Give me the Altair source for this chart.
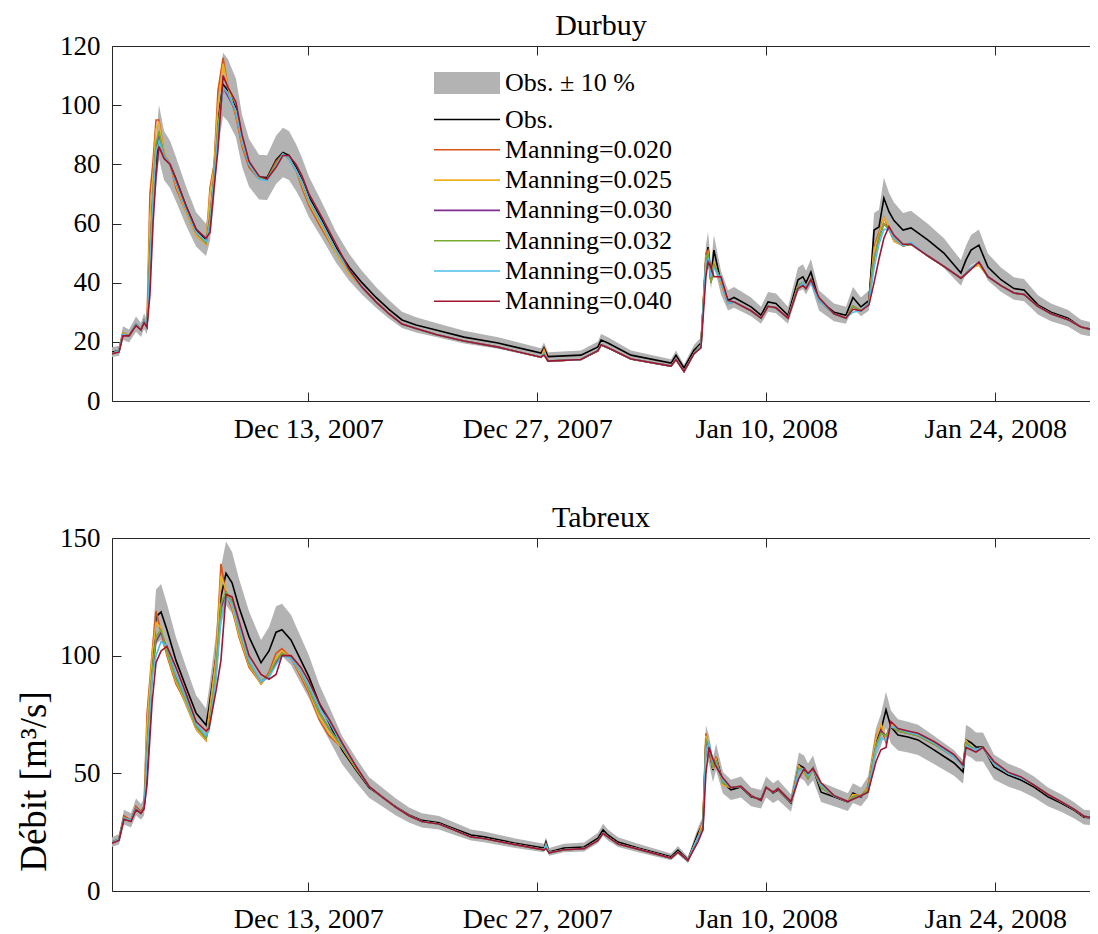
import altair as alt
import pandas as pd

# ---------------- data (days since 2007-12-01 00:00) ----------------
DAYS_D = [0.00, 0.43, 0.67, 1.04, 1.47, 1.77, 1.96, 2.14, 2.32, 2.51,
          2.69, 2.87, 3.18, 3.55, 3.91, 4.52, 5.14, 5.75, 5.99, 6.24,
          6.48, 6.79, 7.09, 7.58, 7.95, 8.38, 8.99, 9.48, 10.03, 10.45,
          10.82, 11.25, 11.62, 12.04, 12.84, 13.69, 14.49, 15.28, 16.14, 16.93,
          17.73, 18.59, 19.81, 21.52, 23.60, 26.23, 26.41, 26.66, 28.67, 29.71,
          29.90, 30.32, 31.73, 34.18, 34.48, 34.97, 35.58, 36.01, 36.31, 36.44,
          36.62, 36.80, 37.23, 37.66, 38.03, 39.07, 39.68, 40.11, 40.59, 41.33,
          41.94, 42.24, 42.43, 42.73, 43.22, 44.14, 44.87, 45.30, 45.79, 46.28,
          46.59, 46.89, 47.19, 47.50, 47.81, 48.36, 48.85, 49.89, 50.86, 51.90,
          52.21, 52.52, 53.00, 53.55, 54.35, 55.14, 55.76, 56.61, 57.41, 58.45,
          59.24, 60.04, 60.34, 61.00]

OBS_D = [16.5, 17, 23, 22, 26, 24, 27, 25, 45, 72,
         80, 91, 83, 80, 75, 66, 58, 54.5, 60, 75,
         95, 107, 105, 99, 88, 80.5, 75.7, 75.5, 81.5, 84,
         83, 79, 74.7, 69, 61, 52, 45.3, 40, 35, 31,
         27.4, 25.7, 24, 21.6, 19.6, 16.2, 18, 15, 15.5, 18.3,
         20.6, 19.6, 15.5, 12.8, 15.5, 11.2, 17.2, 19.6, 47.7, 52,
         42, 51, 40, 34, 35, 31.8, 29, 33.5, 33, 29,
         41, 42, 40, 43.6, 34, 30, 29, 35, 31.8, 34,
         57.8, 58.8, 68.6, 64, 61, 57.8, 58.5, 54.4, 50, 43.3,
         47.7, 51, 52.7, 45.3, 41, 38, 37.5, 32.5, 30, 28,
         25, 24, 23.3, 23]

M020_D = [16, 17, 23, 22, 26, 24, 27, 26, 70, 81,
          95, 95, 84, 80, 72, 64, 56, 53, 72, 80,
          105, 116, 106, 96, 86, 79, 75, 75, 81, 83.5,
          82, 78, 72, 66, 58, 50, 43, 38.5, 33.5, 29.5,
          26, 24.5, 22.5, 20.3, 18.2, 14.8, 17.5, 13.5, 14, 17,
          19, 18, 14.2, 11.8, 14, 10, 16, 19, 50, 51,
          40, 47, 40, 33, 33.5, 30.5, 28, 32, 31.5, 28,
          39, 40, 38, 41, 34, 29.5, 28, 32, 30.5, 33,
          52, 57, 62, 58, 54, 52.5, 53, 49, 45.5, 41.5,
          43, 45, 46, 42, 39, 36.5, 36, 32, 29.5, 27.5,
          25, 24, 23.3, 23]

M025_D = [16, 17, 23, 22, 26, 24, 27, 25, 62, 76,
          92, 94, 84, 80, 73, 64, 56, 53, 70, 79,
          100, 114, 106, 97, 87, 80, 75, 75, 80, 83.5,
          82, 78, 73, 67, 59, 50, 43, 38.5, 33.5, 29.5,
          26, 24.5, 22.5, 20.3, 18.2, 14.8, 17, 13.5, 14, 17,
          19, 18, 14.2, 11.8, 14, 10, 16, 19, 49, 50,
          40, 47, 40, 33, 33.5, 30.5, 28, 32, 31.5, 28,
          39, 40, 38, 41, 34, 29.5, 28, 32, 30.5, 33,
          51, 56, 62, 59, 54, 52.5, 53, 49, 45.5, 41.5,
          43, 45, 46, 42, 39, 36.5, 36, 32, 29.5, 27.5,
          25, 24, 23.3, 23]

M030_D = [16, 17, 22.5, 22, 26, 24, 27, 25, 50, 70,
          86, 90, 83, 80, 74, 65, 57, 53.5, 62, 76,
          92, 106, 103, 98, 88, 80, 75.5, 75, 80, 83.5,
          82, 78, 74, 68, 60, 51, 44, 38.5, 33.5, 29.5,
          26, 24.5, 22.5, 20.3, 18.2, 14.8, 16, 13.5, 14, 17,
          19, 18, 14.2, 11.8, 14, 10, 16, 19, 48, 50,
          40, 46, 41, 33, 33.5, 30.5, 28, 32, 31.5, 28,
          39, 40, 38, 41, 34, 29.5, 28, 32, 30.5, 33,
          48, 55, 60, 58, 55, 52.5, 53, 49, 45.5, 41.5,
          43, 45, 47, 42, 39, 36.5, 36, 32, 29.5, 27.5,
          25, 24, 23.3, 23]

M032_D = [16, 17, 22.5, 22, 26, 24, 27, 25, 50, 71,
          87, 91, 83, 80, 74, 65, 57, 53.5, 62, 76,
          93, 106, 104, 98, 88, 80, 75.5, 75, 80, 83.5,
          82, 78, 74, 68, 60, 51, 44, 38.5, 33.5, 29.5,
          26, 24.5, 22.5, 20.3, 18.2, 14.8, 16, 13.5, 14, 17,
          19, 18, 14.2, 11.8, 14, 10, 16, 19, 48, 50,
          40, 46, 41, 33, 33.5, 30.5, 28, 32, 31.5, 28,
          39, 40, 38, 41, 34, 29.5, 28, 32, 30.5, 33,
          48, 55, 60, 58, 55, 52.5, 53, 49, 45.5, 41.5,
          43, 45, 47, 42, 39, 36.5, 36, 32, 29.5, 27.5,
          25, 24, 23.3, 23]

M035_D = [16, 17, 22.5, 22, 26, 24, 27, 25, 46, 68,
          84, 88, 83, 80, 74, 65, 57, 54, 60, 75,
          90, 106, 104, 98, 88, 80, 75, 74.5, 79.5, 83.5,
          82, 78, 74, 68, 60, 51, 44, 38.5, 33.5, 29.5,
          26, 24.5, 22.5, 20.3, 18.2, 14.8, 16, 13.5, 14, 17,
          19, 18, 14.2, 11.8, 14, 10, 16, 18.5, 47, 48,
          42, 45, 41, 33, 33.5, 30.5, 28, 32, 31.5, 28,
          38, 40, 38, 40, 34, 29.5, 28, 30, 30.5, 33,
          45, 53, 58, 58, 55, 52.5, 53.5, 49, 45.5, 41.5,
          43, 45, 47, 42, 39, 36.5, 36, 32, 29.5, 27.5,
          25, 24, 23.3, 23]

M040_D = [16, 16.5, 22, 22, 25.5, 24, 26.5, 25, 36, 60,
          76, 86, 82, 80, 75, 66, 58, 55, 57, 72,
          85, 110, 106, 101, 90, 81, 76, 75, 79, 83,
          83, 80, 76, 70, 62, 53, 44.5, 38.5, 33.5, 29.5,
          26, 24.5, 22.5, 20.3, 18.2, 14.8, 15.5, 13.5, 14, 17,
          19, 18, 14.2, 11.8, 14, 10, 16, 18, 42, 47,
          45, 42, 42, 34, 33.5, 30.5, 28, 32, 31.5, 28,
          38, 39, 38, 41, 35, 29.5, 28, 31, 30.5, 32.5,
          40, 48, 55, 59, 56, 53, 53, 49, 45.5, 41.5,
          43, 44.5, 47, 42, 39, 36.5, 36, 32, 29.5, 27.5,
          25, 24, 23.3, 23]

DAYS_T = [0.00, 0.43, 0.73, 1.16, 1.47, 1.77, 1.96, 2.14, 2.45, 2.69,
          3.00, 3.36, 3.91, 4.52, 5.14, 5.75, 5.93, 6.36, 6.66, 6.97,
          7.34, 7.76, 8.38, 9.11, 9.60, 10.03, 10.39, 10.94, 11.55, 12.04,
          12.66, 13.27, 14.06, 14.92, 15.71, 16.51, 17.36, 18.16, 18.95, 19.99,
          20.73, 21.95, 22.74, 24.58, 26.41, 26.53, 26.72, 27.63, 28.86, 29.71,
          30.02, 30.32, 30.94, 32.16, 34.18, 34.60, 35.21, 35.83, 36.13, 36.31,
          36.50, 36.74, 36.93, 37.35, 37.84, 38.45, 39.07, 39.68, 39.99, 40.42,
          40.72, 41.51, 42.00, 42.31, 42.55, 42.86, 43.35, 44.14, 44.99, 45.30,
          45.79, 46.22, 46.71, 47.01, 47.32, 47.62, 48.05, 48.66, 49.28, 50.25,
          51.48, 52.03, 52.21, 52.52, 52.82, 53.25, 53.92, 54.78, 55.57, 56.37,
          57.22, 58.02, 58.81, 59.42, 60.04, 60.34, 61.00]

OBS_T = [20.8, 22, 31.4, 30, 35.7, 33.6, 35.7, 50, 94, 116.5,
         118.6, 111, 98, 86.7, 75.6, 70.5, 78, 99.5, 125, 135,
         131, 120.7, 108, 97, 102, 110, 111, 106.7, 98, 91,
         80, 71.4, 60, 51.4, 44, 40, 35.7, 32.3, 30, 29,
         27, 23.8, 23, 20.4, 18.3, 20.8, 16.6, 18.3, 18.7, 22.5,
         26, 23.8, 20.8, 18.3, 14.5, 17.4, 13.2, 24.6, 28.9, 64,
         60, 51.4, 57, 46, 43, 44.2, 40, 39, 44.2, 41.6,
         43, 37.4, 53.5, 52.3, 49.3, 52.3, 42, 40, 37.8, 41.6,
         40, 44.2, 63, 68.4, 77, 69.7, 66.3, 65.4, 64.2, 60,
         54.4, 50.6, 64.2, 63, 61.2, 61.2, 52.7, 49.3, 47.2, 44.2,
         40, 37.4, 34.4, 31.4, 31, 30.5, 30]

M020_T = [20.8, 22, 32, 30, 36, 33.6, 36, 75, 101, 119,
          110, 100, 88, 80, 69, 64, 75, 100, 139, 126,
          120, 108, 95, 88, 93, 101, 103, 99, 91, 84,
          73, 66, 61, 52, 44.5, 40, 35.5, 32, 29.5, 28.5,
          26.5, 23, 22.3, 19.8, 17.5, 20, 16.2, 17.5, 18, 21.5,
          24.5, 23, 20, 17.8, 14, 16.5, 13, 23, 30, 67,
          60, 52, 57, 45, 44, 44.5, 40.5, 38.5, 44, 42,
          43.5, 38, 53, 50, 48, 52, 44, 40.5, 38, 41,
          40.5, 44, 66, 70, 63, 70, 68, 67, 66, 62.5,
          57, 53, 64, 61, 60, 61, 54, 50, 48, 45,
          41, 38, 34.8, 31.8, 31, 30.5, 30]

M025_T = [20.5, 22, 31, 30, 35, 33, 35, 70, 100, 114,
          112, 101, 89, 80, 69, 64, 74, 98, 134, 128,
          121, 109, 96, 88, 92, 99, 102, 99, 92, 85,
          74, 67, 61, 52, 44.5, 40, 35.5, 32, 29.5, 28.5,
          26.5, 23, 22.3, 19.8, 17.5, 19.5, 16.2, 17.5, 18, 21.5,
          24.5, 23, 20, 17.8, 14, 16.5, 13, 23, 29, 66,
          62, 52, 56, 45, 44, 44.5, 40.5, 38.5, 44, 42,
          43.5, 38, 53, 50, 48, 52, 44, 40.5, 38, 41,
          40.5, 44, 65, 71, 65, 71, 68, 67, 66, 62.5,
          57, 53, 64, 61, 60, 61, 54, 50, 48, 45,
          41, 38, 34.8, 31.8, 31, 30.5, 30]

M030_T = [20.5, 22, 31, 30, 35, 33, 35, 60, 92, 106,
          110, 103, 91, 82, 70, 65, 70, 92, 120, 127,
          123, 112, 97, 89, 91, 97, 101, 99, 93, 86,
          76, 69, 61.5, 52.5, 44.5, 40, 35.5, 32, 29.5, 28.5,
          26.5, 23, 22.3, 19.8, 17.5, 19.5, 16.2, 17.5, 18, 21.5,
          24.5, 23, 20, 17.8, 14, 16.5, 13, 23, 27, 64,
          62, 53, 55, 46, 44, 44.5, 40.5, 38.5, 44, 42,
          43.5, 38, 52, 51, 48, 52, 44, 40.5, 38, 40,
          40.5, 43, 62, 68, 66, 70, 68, 67, 66, 62.5,
          57, 53, 63, 61, 60, 61, 54, 50, 48, 45,
          41, 38, 34.8, 31.8, 31, 30.5, 30]

M032_T = [20.5, 22, 31, 30, 35, 33, 35, 60, 93, 108,
          111, 102, 90, 81, 70, 65, 70, 94, 122, 127,
          123, 111, 97, 89, 92, 98, 101, 99, 93, 86,
          76, 69, 61.5, 52.5, 44.5, 40, 35.5, 32, 29.5, 28.5,
          26.5, 23, 22.3, 19.8, 17.5, 19.5, 16.2, 17.5, 18, 21.5,
          24.5, 23, 20, 17.8, 14, 16.5, 13, 23, 27, 64,
          62, 53, 55, 46, 44, 44.5, 40.5, 38.5, 44, 42,
          43.5, 38, 52, 51, 48, 52, 44, 40.5, 38, 40,
          40.5, 43, 62, 67, 66, 70, 68, 67, 66, 62.5,
          57, 53, 63, 61, 60, 61, 54, 50, 48, 45,
          41, 38, 34.8, 31.8, 31, 30.5, 30]

M035_T = [20.5, 22, 31, 30, 35, 33, 35, 55, 90, 100,
          106, 104, 92, 82, 71, 66, 68, 90, 115, 125,
          122, 112, 98, 89, 91, 96, 100, 99, 93, 87,
          78, 72, 62, 53, 44.5, 40, 35.5, 32, 29.5, 28.5,
          26.5, 23, 22.3, 19.8, 17.5, 19.5, 16.2, 17.5, 18, 21.5,
          24.5, 23, 20, 17.8, 14, 16.5, 13, 23, 26, 60,
          63, 55, 54, 47, 44, 44.5, 40.5, 38.5, 44, 42,
          43.5, 38, 51, 52, 49, 52, 45, 40.5, 38, 39,
          40.5, 42, 60, 65, 64, 70, 69, 67.5, 66.5, 63,
          57, 53, 62, 60.5, 60, 61, 54, 50, 48, 45,
          41, 38, 34.8, 31.8, 31, 30.5, 30]

M040_T = [20.3, 21.5, 30.5, 29.5, 34.5, 33, 35, 45, 80, 97,
          102, 104, 95, 84, 72, 68, 69, 85, 98, 126,
          125, 115, 100, 92, 90, 92, 100, 100, 95, 89,
          80, 73, 63, 53, 44.5, 40, 35.5, 32, 29.5, 28.5,
          26.5, 23, 22.3, 19.8, 17.5, 18, 16.2, 17.5, 18, 21.5,
          24.5, 23, 20, 17.8, 14, 16.5, 13, 21, 26, 50,
          61, 56, 53, 48, 44, 44.5, 40.5, 38.5, 44, 42,
          43.5, 38, 48, 52, 50, 52, 46, 40.5, 38, 39,
          40.5, 42, 55, 60, 61, 72, 69, 68, 67, 63.5,
          58, 53.5, 61, 60, 59, 61, 55, 50.5, 48.5, 45,
          41, 38, 34.8, 31.8, 31, 30.5, 30]

SERIES = ["Obs.", "Manning=0.020", "Manning=0.025", "Manning=0.030",
          "Manning=0.032", "Manning=0.035", "Manning=0.040"]
COLORS = ["#000000", "#D95319", "#EDB120", "#7E2F8E", "#77AC30", "#4DBEEE", "#A2142F"]
BAND_LABEL = "Obs. \u00b1 10 %"
BAND_COLOR = "#b3b3b3"
Y_TICKS_D = [0, 20, 40, 60, 80, 100, 120]
Y_TICKS_T = [0, 50, 100, 150]

FONT = "Liberation Serif"
AXIS_COLOR = "#262626"
START = pd.Timestamp("2007-12-01")
X_TICKS = [alt.DateTime(year=2007, month=12, date=13),
           alt.DateTime(year=2007, month=12, date=27),
           alt.DateTime(year=2008, month=1, date=10),
           alt.DateTime(year=2008, month=1, date=24)]
X_DOMAIN = [alt.DateTime(year=2007, month=12, date=1),
            alt.DateTime(year=2008, month=1, date=29, hours=19, minutes=0)]
TICK = 9
PLOT_W = 978


def to_time(days):
    return (START + pd.to_timedelta(days, unit="D")).round("min")


def panel(days, obs, models, title, ymax, yticks, ytitle, height, show_legend, xlab_pad):
    t = to_time(days)
    band = pd.DataFrame({"t": t, "lo": [0.9 * v for v in obs],
                         "hi": [1.1 * v for v in obs], "k": BAND_LABEL})
    obs_df = pd.DataFrame({"t": t, "q": obs, "s": "Obs."})
    mod_df = pd.concat([pd.DataFrame({"t": t, "q": vals, "s": name})
                        for name, vals in zip(SERIES[1:], models)], ignore_index=True)

    xscale = alt.Scale(domain=X_DOMAIN, nice=False)
    yscale = alt.Scale(domain=[0, ymax], nice=False)
    cscale = alt.Scale(domain=SERIES, range=COLORS)

    if show_legend:
        fill_legend = alt.Legend(orient="none", legendX=342, legendY=24, title=None,
                                 symbolType="M-3,-1H3V1H-3Z", symbolSize=484,
                                 symbolStrokeWidth=0, labelOffset=25, padding=0,
                                 labelFont=FONT, labelFontSize=26, labelColor="#000")
        color_legend = alt.Legend(orient="none", legendX=342, legendY=60.5, title=None,
                                  symbolType="M-3,0H3", symbolSize=484,
                                  symbolStrokeWidth=1.6, labelOffset=25, padding=0,
                                  rowPadding=4.3, labelFont=FONT, labelFontSize=26,
                                  labelColor="#000")
    else:
        fill_legend = None
        color_legend = None

    if ytitle:
        y_axis = alt.Axis(values=yticks, ticks=False, tickSize=0, domain=True, grid=False,
                          labelPadding=12, title=ytitle, titlePadding=6, titleY=243,
                          titleFontSize=37)
    else:
        y_axis = alt.Axis(values=yticks, ticks=False, tickSize=0, domain=True, grid=False,
                          labelPadding=12, title=None)

    area = alt.Chart(band).mark_area(clip=True, opacity=1).encode(
        x=alt.X("t:T", scale=xscale,
                axis=alt.Axis(values=X_TICKS, format="%b %d, %Y", ticks=False, tickSize=0,
                              domain=True, grid=False, labelPadding=xlab_pad, title=None,
                              labelOverlap=False, labelFlush=False, labelFontSize=28)),
        y=alt.Y("lo:Q", scale=yscale, axis=y_axis),
        y2="hi:Q",
        fill=alt.Fill("k:N", scale=alt.Scale(domain=[BAND_LABEL], range=[BAND_COLOR]),
                      legend=fill_legend),
    )
    obs_line = alt.Chart(obs_df).mark_line(clip=True, strokeWidth=1.6).encode(
        x=alt.X("t:T", scale=xscale,
                axis=alt.Axis(orient="bottom", offset=-TICK, tickSize=TICK, labels=False,
                              domain=False, grid=False, title=None, values=X_TICKS)),
        y=alt.Y("q:Q", scale=yscale,
                axis=alt.Axis(orient="left", offset=-TICK, tickSize=TICK, labels=False,
                              domain=False, grid=False, title=None, values=yticks)),
        color=alt.Color("s:N", scale=cscale, legend=color_legend),
    )
    mod_lines = alt.Chart(mod_df).mark_line(clip=True, strokeWidth=1.6).encode(
        x=alt.X("t:T", scale=xscale,
                axis=alt.Axis(orient="top", offset=-TICK, tickSize=TICK, labels=False,
                              domain=False, grid=False, title=None, values=X_TICKS)),
        y=alt.Y("q:Q", scale=yscale, axis=None),
        color=alt.Color("s:N", scale=cscale, legend=color_legend),
    )
    top_edge = alt.Chart(obs_df).mark_line(opacity=0, clip=True).encode(
        x=alt.X("t:T", scale=xscale,
                axis=alt.Axis(orient="top", domain=True, ticks=False, tickSize=0,
                              labels=False, grid=False, title=None, values=X_TICKS)),
        y=alt.Y("q:Q", scale=yscale, axis=None),
    )
    return alt.layer(area, obs_line, mod_lines, top_edge).resolve_axis(
        x="independent", y="independent"
    ).properties(
        width=PLOT_W, height=height,
        title=alt.TitleParams(title, font=FONT, fontSize=30, fontWeight="normal",
                              color="#000", offset=-9, frame="group"),
    )


top = panel(DAYS_D, OBS_D, [M020_D, M025_D, M030_D, M032_D, M035_D, M040_D],
            "Durbuy", 120, Y_TICKS_D, None, 355, True, 14)
bottom = panel(DAYS_T, OBS_T, [M020_T, M025_T, M030_T, M032_T, M035_T, M040_T],
               "Tabreux", 150, Y_TICKS_T, "D\u00e9bit [m\u00b3/s]", 353, False, 14)

chart = alt.vconcat(top, bottom, spacing=60).resolve_scale(
    x="independent", y="independent", color="independent", fill="independent"
).resolve_legend(color="independent", fill="independent").properties(
    padding={"left": 7, "top": 3, "right": 0, "bottom": 0}
).configure_view(
    stroke="transparent", strokeWidth=0
).configure_axis(
    labelFont=FONT, labelFontSize=27, labelColor="#000",
    titleFont=FONT, titleFontSize=28, titleFontWeight="normal", titleColor="#000",
    tickColor=AXIS_COLOR, tickWidth=1, domainColor=AXIS_COLOR, domainWidth=1,
).configure_legend(
    labelFont=FONT, labelFontSize=26, labelColor="#000", labelLimit=0
).configure_title(
    font=FONT, fontSize=30, fontWeight="normal", color="#000"
)

chart.save("out.html", embed_options={"renderer": "svg", "actions": False})
